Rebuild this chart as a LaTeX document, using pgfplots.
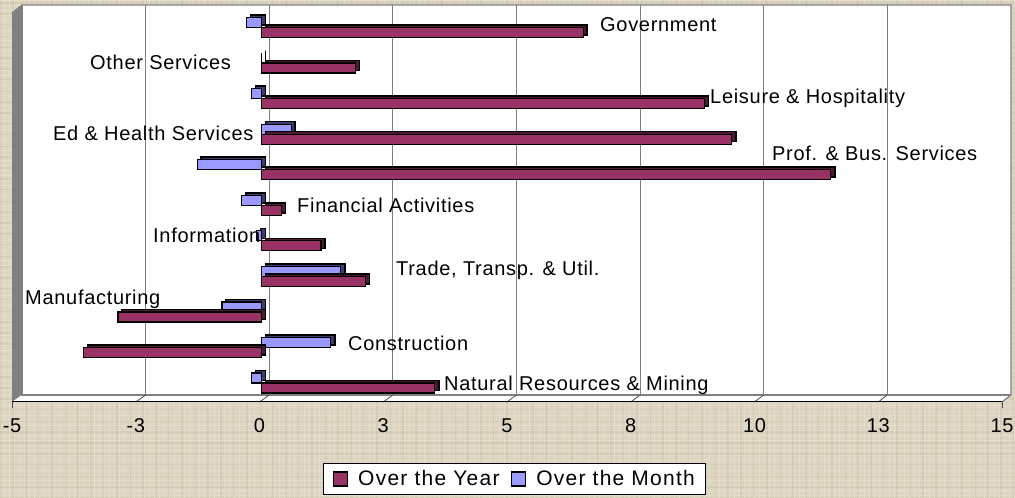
\documentclass[border=0pt]{standalone}
\usepackage{fontspec}
\setmainfont{Liberation Sans}
\usepackage{pgfplots}
\pgfplotsset{compat=1.18}
\usepackage{pgfplotstable}
\definecolor{bgtan}{HTML}{DDD5C1}
\definecolor{bgline}{HTML}{CBC2AA}
\definecolor{bglight}{HTML}{EBE6D8}
\definecolor{yearfill}{HTML}{993366}
\definecolor{yearside}{HTML}{4D1A33}
\definecolor{monthfill}{HTML}{9999FF}
\definecolor{monthside}{HTML}{3D3D70}
\definecolor{wallgray}{HTML}{808080}

% row 0 = Natural Resources & Mining ... row 10 = Government
\pgfplotstableread{
row year month
0  3.5  -0.2
1  -3.6  1.4
2  -2.9 -0.8
3  2.1   1.6
4  1.2  -0.1
5  0.4  -0.4
6  11.5 -1.3
7  9.5   0.6
8  8.95 -0.2
9  1.9   0.0
10 6.5  -0.3
}\jobs

\newcommand{\chartfont}{\fontsize{20}{20}\selectfont\addfontfeature{LetterSpace=3.5}}
\newcommand{\lbl}[3]{\node[anchor=base west,inner sep=0pt,font=\chartfont] at (#1pt,498pt-#2pt) {#3};}

\begin{document}
\begin{tikzpicture}[x=1pt,y=1pt]
\path[use as bounding box,fill=bgtan] (0,0) rectangle (1015,498);
% background weave
\foreach \i in {0,13,...,1015} \draw[bgline,line width=1.5pt,opacity=.5] (\i,0) -- (\i,498);
\foreach \i in {0,11,...,498} \draw[bgline,line width=1.5pt,opacity=.5] (0,\i) -- (1015,\i);
\foreach \i in {4,9,...,1015} \draw[bglight,line width=1pt,opacity=.45] (\i,0) -- (\i,498);
\foreach \i in {2,7,...,498} \draw[bglight,line width=1pt,opacity=.45] (0,\i) -- (1015,\i);
% walls of the plot box
\fill[wallgray] (12,96) -- (22,103) -- (22,493) -- (12,485) -- cycle;
\fill[white] (22,103) rectangle (1011,493);
\fill[white] (12,96) -- (22,103) -- (1011,103) -- (1002,96) -- cycle;
\draw[wallgray,line width=1.2pt] (12,485) -- (22,493) -- (1011,493) -- (1011,103) -- (1002,96);
\draw[wallgray,line width=1.2pt] (22,493) -- (22,103) -- (1011,103);

% back plane with the grid
\begin{axis}[
    at={(22pt,103pt)}, anchor=south west,
    width=989pt, height=390pt, scale only axis,
    xmin=-5, xmax=15, ymin=0, ymax=1,
    xtick={-2.5,0,...,12.5}, ytick=\empty, xticklabels={},
    xmajorgrids, grid style={wallgray,line width=1pt},
    major tick length=0pt,
    axis line style={draw=none},
]
\end{axis}

% slanted floor ticks
\foreach \i in {1,...,7}
  \draw[black!70,line width=.8pt] ({12+\i*123.75},96) -- ({22+\i*123.6},103);
\draw[black,line width=1pt] (12,96) -- (1002,96);
\draw[black!70,line width=1pt] (12,96) -- (12,90);
\draw[black!70,line width=1pt] (1002,96) -- (1002,90);

% bars on the front plane
\begin{axis}[
    at={(12pt,96pt)}, anchor=south west,
    width=990pt, height=390pt, scale only axis,
    xmin=-5, xmax=15, ymin=-0.534, ymax=10.436,
    xtick={-5,-2.5,...,15}, xticklabels={-5,-3,0,3,5,8,10,13,15},
    ytick=\empty,
    axis line style={draw=none},
    major tick length=0pt,
    xticklabel style={font=\chartfont,/pgf/number format/assume math mode=true},
    xtick pos=lower,
    xticklabel shift=13pt,
    clip=false,
    xbar, bar width=10pt,
    legend columns=2,
    legend style={at={(311pt,-61pt)},anchor=north west,draw=black,line width=1pt,fill=white,
      font=\fontsize{21}{21}\selectfont\addfontfeature{LetterSpace=6},
      inner xsep=9pt,inner ysep=5pt,
      /tikz/every even column/.append style={column sep=9pt}},
    legend image code/.code={\path[draw=none,fill=none] (0pt,0pt) -- (23pt,0pt);\draw[#1,draw=black,line width=1.4pt] (0pt,-7pt) rectangle (14pt,7pt);},
]
\addplot[forget plot,draw=black,line width=1.6pt,fill=monthside,xshift=6pt,yshift=2.5pt,bar shift=5pt] table[x=month,y=row] {\jobs};
\addplot[forget plot,draw=black,line width=1.2pt,fill=monthfill,xshift=2pt,bar shift=5pt] table[x=month,y=row] {\jobs};
\addplot[forget plot,draw=black,line width=1.6pt,fill=yearside,xshift=6pt,yshift=2.5pt,bar shift=-5pt] table[x=year,y=row] {\jobs};
\addplot[forget plot,draw=black,line width=1.2pt,fill=yearfill,xshift=2pt,bar shift=-5pt] table[x=year,y=row] {\jobs};
\addlegendimage{fill=yearfill}
\addlegendentry{Over the Year}
\addlegendimage{fill=monthfill}
\addlegendentry{Over the Month}
\end{axis}

\lbl{600}{32}{Government}
\lbl{90}{70}{Other Services}
\lbl{710}{104}{Leisure \& Hospitality}
\lbl{53}{141}{Ed \& Health Services}
\lbl{772}{161}{Prof. \& Bus. Services}
\lbl{297}{213}{Financial Activities}
\lbl{153}{243}{Information}
\lbl{396}{276}{Trade, Transp. \& Util.}
\lbl{25}{305}{Manufacturing}
\lbl{348}{351}{Construction}
\lbl{444}{391}{Natural Resources \& Mining}
\end{tikzpicture}
\end{document}
